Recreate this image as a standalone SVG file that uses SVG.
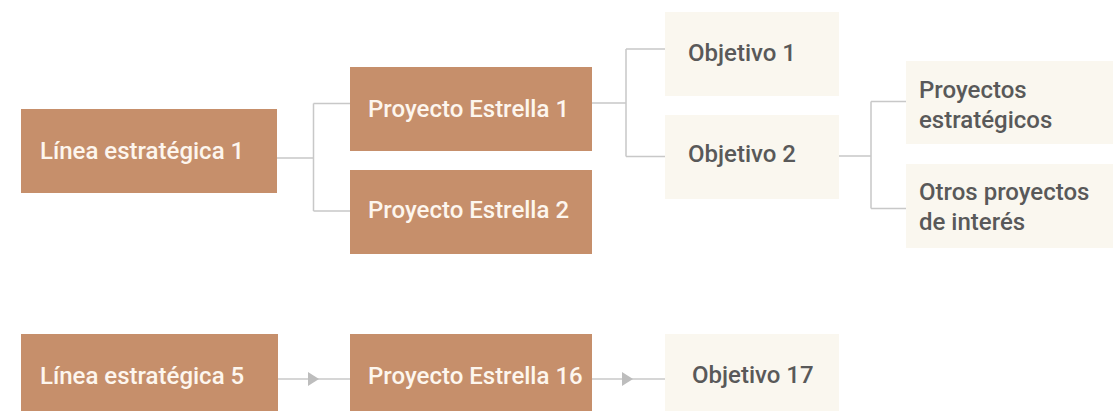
<svg xmlns="http://www.w3.org/2000/svg" width="1113" height="411" viewBox="0 0 1113 411">
<style>
.dark{fill:#C68F6B}
.light{fill:#FAF7EF}
.tl{font-family:Roboto,"Liberation Sans",sans-serif;font-size:24px;font-weight:500;fill:#FDF6EE}
.td{font-family:Roboto,"Liberation Sans",sans-serif;font-size:24px;font-weight:500;fill:#595959}
.c{fill:none;stroke:#C8C8C8;stroke-width:1.5}
</style>
<defs>
<marker id="arr" markerWidth="12" markerHeight="14" refX="11" refY="7" orient="auto" markerUnits="userSpaceOnUse">
<path d="M0,0 L11,7 L0,14 Z" fill="#BDBDBD"/>
</marker>
</defs>
<rect width="1113" height="411" fill="#FFFFFF"/>
<g id="connectors">
<path class="c" d="M277,158 H313.5 M313.5,103.5 V211 M313.5,103.5 H350 M313.5,211 H350"/>
<path class="c" d="M592,103 H626 M626,49 V156.5 M626,49 H665 M626,156.5 H665"/>
<path class="c" d="M839,156 H871 M871,101.5 V208.5 M871,101.5 H906 M871,208.5 H906"/>
<path class="c" d="M277,379 H319" marker-end="url(#arr)"/>
<path class="c" d="M319,379 H350"/>
<path class="c" d="M592,379 H633" marker-end="url(#arr)"/>
<path class="c" d="M633,379 H665"/>
</g>
<g id="linea1"><rect class="dark" x="21" y="109" width="256" height="84"/><text class="tl" x="40" y="159">Línea estratégica 1</text></g>
<g id="pe1"><rect class="dark" x="350" y="67" width="242" height="84"/><text class="tl" x="368" y="117">Proyecto Estrella 1</text></g>
<g id="pe2"><rect class="dark" x="350" y="170" width="242" height="84"/><text class="tl" x="368" y="218">Proyecto Estrella 2</text></g>
<g id="obj1"><rect class="light" x="665" y="12" width="174" height="84"/><text class="td" x="688" y="61">Objetivo 1</text></g>
<g id="obj2"><rect class="light" x="665" y="115" width="174" height="84"/><text class="td" x="688" y="162">Objetivo 2</text></g>
<g id="proyest"><rect class="light" x="906" y="61" width="210" height="83"/><text class="td" x="919" y="98">Proyectos</text><text class="td" x="919" y="128">estratégicos</text></g>
<g id="otros"><rect class="light" x="906" y="164" width="210" height="84"/><text class="td" x="919" y="200">Otros proyectos</text><text class="td" x="919" y="230">de interés</text></g>
<g id="linea5"><rect class="dark" x="21" y="334" width="257" height="84"/><text class="tl" x="40" y="384">Línea estratégica 5</text></g>
<g id="pe16"><rect class="dark" x="350" y="334" width="242" height="84"/><text class="tl" x="368" y="384">Proyecto Estrella 16</text></g>
<g id="obj17"><rect class="light" x="665" y="334" width="174" height="84"/><text class="td" x="692" y="383">Objetivo 17</text></g>
</svg>
